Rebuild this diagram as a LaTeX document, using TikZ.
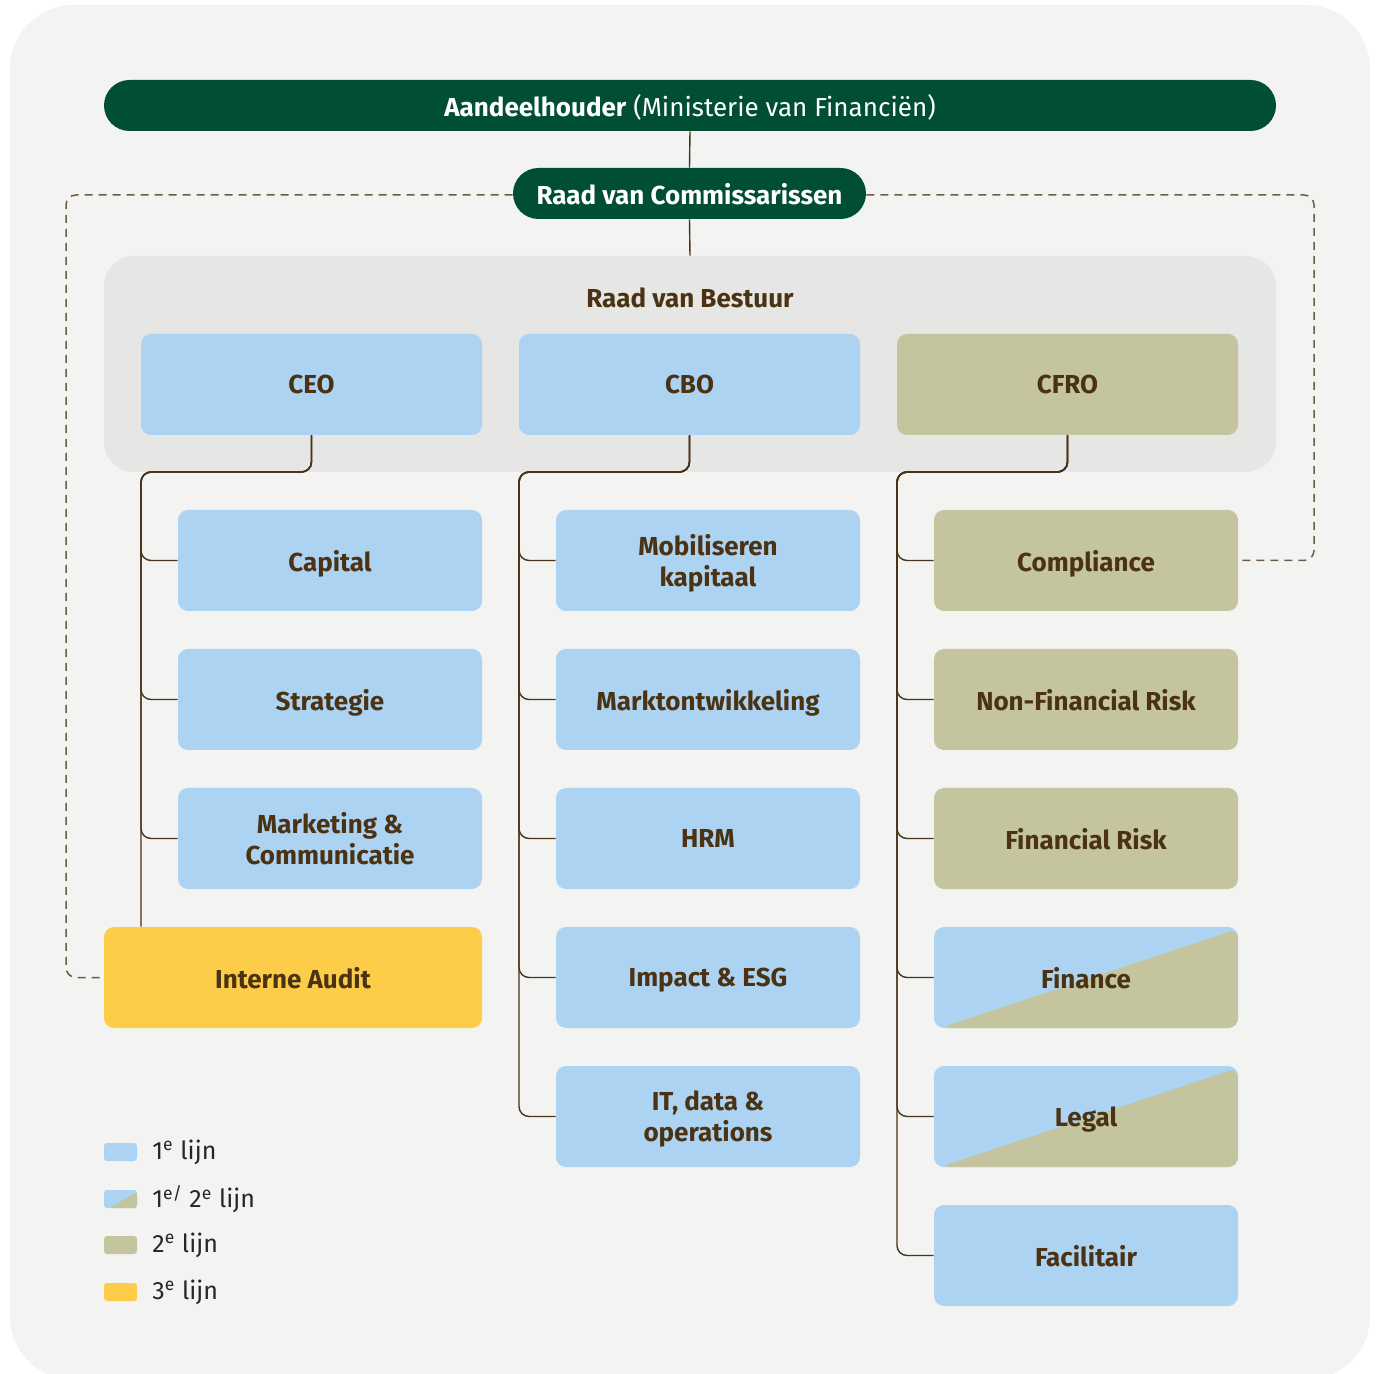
\documentclass[tikz,border=0pt]{standalone}
\usepackage{fontspec}
\setmainfont{Fira Sans}
\definecolor{bgc}{HTML}{F3F3F1}
\definecolor{panelc}{HTML}{E6E6E4}
\definecolor{greenc}{HTML}{004F35}
\definecolor{bluec}{HTML}{ADD3F3}
\definecolor{olivec}{HTML}{C4C59E}
\definecolor{yellowc}{HTML}{FDCC48}
\definecolor{txtc}{HTML}{4A3213}
\definecolor{linec}{HTML}{4A3418}
\definecolor{dashc}{HTML}{6E5C47}
\begin{document}
\begin{tikzpicture}[x=0.5pt,y=-0.5pt,
  lbl/.style={font=\fontsize{13}{15.5}\selectfont\bfseries, text=txtc, align=center, text depth=0pt},
  unit/.style={lbl, rounded corners=5pt, minimum width=152pt, minimum height=50.5pt, inner sep=0pt},
  top/.style={lbl, rounded corners=5pt, minimum width=170.5pt, minimum height=50.5pt, inner sep=0pt},
  bluebox/.style={fill=bluec},
  olivebox/.style={fill=olivec},
  splitbox/.style={fill=bluec, path picture={\fill[olivec] ([xshift=3pt]path picture bounding box.south west) -- (path picture bounding box.south east) -- ([yshift=-1pt]path picture bounding box.north east) -- cycle;}},
  pill/.style={fill=greenc, text=white, rounded corners=12.75pt, minimum height=25.5pt, inner sep=0pt, text depth=0pt, font=\fontsize{13}{15.5}\selectfont},
  conn/.style={draw=linec, line width=0.7pt, rounded corners=5pt},
  dashline/.style={draw=dashc, line width=0.75pt, dash pattern=on 4pt off 3pt, rounded corners=5pt},
  swatch/.style={rounded corners=1.5pt, minimum width=16.5pt, minimum height=9pt, inner sep=0pt},
  legtxt/.style={font=\fontsize{12.5}{15}\selectfont, text=black!85, anchor=west, inner sep=0pt}
]
\useasboundingbox (0,0) rectangle (1378,1374);
\fill[white] (0,0) rectangle (1378,1374);
\fill[bgc, rounded corners=32pt] (10,5) rectangle (1370,1380);

% top
\node[pill, minimum width=586pt] (AH) at (690,105.5) {\textbf{Aandeelhouder} (Ministerie van Financiën)};
\node[pill, minimum width=176.5pt, font=\fontsize{13}{15.5}\selectfont\bfseries] (RvC) at (689.5,193.5) {Raad van Commissarissen};
\draw[conn] (AH.south) -- (RvC.north);

% panel
\node[fill=panelc, rounded corners=15pt, minimum width=586pt, minimum height=108pt, inner sep=0pt] (RvB) at (690,364) {};
\draw[conn] (RvC.south) -- (RvB.north);
\node[lbl] (RvBt) at (690,298) {Raad van Bestuur};

\node[top, bluebox] (CEO) at (311.5,384.5) {CEO};
\node[top, bluebox] (CBO) at (689.5,384.5) {CBO};
\node[top, olivebox] (CFRO) at (1067.5,384.5) {CFRO};

% CEO column
\node[unit, bluebox] (Capital) at (330,560.5) {Capital};
\node[unit, bluebox] (Strategie) at (330,699.5) {Strategie};
\node[unit, bluebox] (Marketing) at (330,838.5) {Marketing \&\\Communicatie};
\node[unit, fill=yellowc, minimum width=189pt] (Audit) at (293,977.5) {Interne Audit};

% CBO column
\node[unit, bluebox] (Mobil) at (708,560.5) {Mobiliseren\\kapitaal};
\node[unit, bluebox] (Markt) at (708,699.5) {Marktontwikkeling};
\node[unit, bluebox] (HRM) at (708,838.5) {HRM};
\node[unit, bluebox] (Impact) at (708,977.5) {Impact \& ESG};
\node[unit, bluebox] (IT) at (708,1116.5) {IT, data \&\\operations};

% CFRO column
\node[unit, olivebox] (Compliance) at (1086,560.5) {Compliance};
\node[unit, olivebox] (NFR) at (1086,699.5) {Non-Financial Risk};
\node[unit, olivebox] (FR) at (1086,838.5) {Financial Risk};
\node[unit, splitbox] (Finance) at (1086,977.5) {Finance};
\node[unit, splitbox] (Legal) at (1086,1116.5) {Legal};
\node[unit, bluebox] (Facil) at (1086,1255.5) {Facilitair};

% connectors
\coordinate (ceoL) at (141,472);
\coordinate (cboL) at (519,472);
\coordinate (cfroL) at (897,472);
\foreach \c in {Capital,Strategie,Marketing}
  \draw[conn] (CEO.south) -- (CEO.south |- ceoL) -- (ceoL) -- (ceoL |- \c.west) -- (\c.west);
\draw[conn] (CEO.south) -- (CEO.south |- ceoL) -- (ceoL) -- (ceoL |- Audit.north);
\foreach \c in {Mobil,Markt,HRM,Impact,IT}
  \draw[conn] (CBO.south) -- (CBO.south |- cboL) -- (cboL) -- (cboL |- \c.west) -- (\c.west);
\foreach \c in {Compliance,NFR,FR,Finance,Legal,Facil}
  \draw[conn] (CFRO.south) -- (CFRO.south |- cfroL) -- (cfroL) -- (cfroL |- \c.west) -- (\c.west);

% dashed
\coordinate (dL) at (66,195);
\coordinate (dR) at (1314,195);
\draw[dashline] (RvC.west |- dL) -- (dL) -- (dL |- Audit.west) -- (Audit.west);
\draw[dashline] (RvC.east |- dR) -- (dR) -- (dR |- Compliance.east) -- (Compliance.east);

% legend
\node[swatch, bluebox] (L1) at (120.5,1152) {};
\node[swatch, splitbox] (L2) at (120.5,1199) {};
\node[swatch, olivebox] (L3) at (120.5,1245) {};
\node[swatch, fill=yellowc] (L4) at (120.5,1292) {};
\node[legtxt] (T1) at (152,1152) {1\textsuperscript{e} lijn};
\node[legtxt] (T2) at (152,1199) {1\textsuperscript{e/} 2\textsuperscript{e} lijn};
\node[legtxt] (T3) at (152,1245) {2\textsuperscript{e} lijn};
\node[legtxt] (T4) at (152,1292) {3\textsuperscript{e} lijn};
\end{tikzpicture}
\end{document}
